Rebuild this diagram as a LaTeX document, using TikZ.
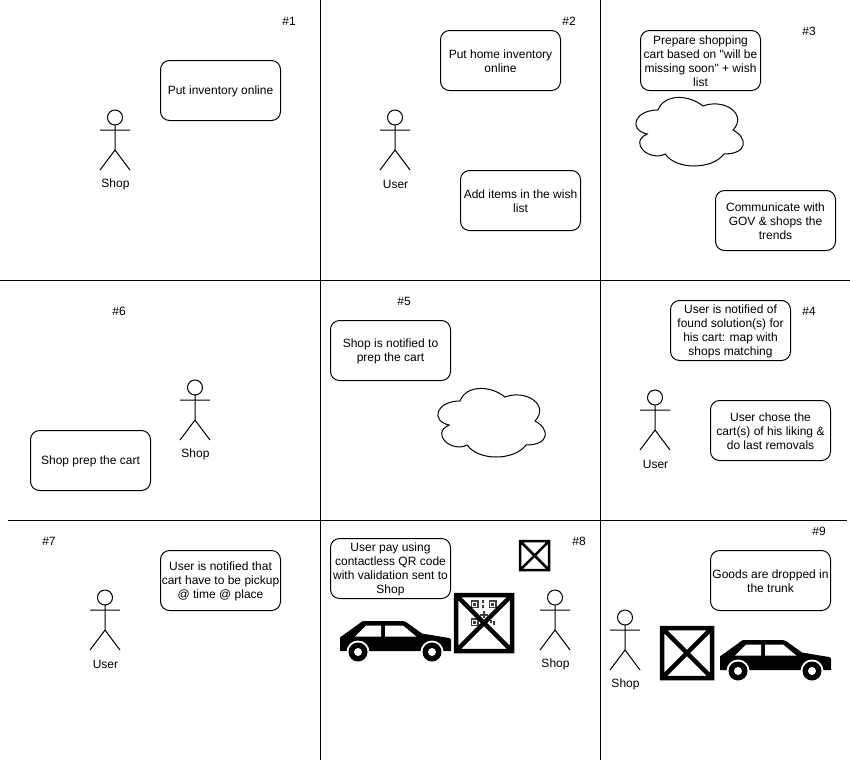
\documentclass[tikz,border=0pt]{standalone}
\usepackage{fontspec}
\setmainfont{Liberation Sans}[Ligatures=TeXOff]
\newcommand{\topgap}{\rule{0pt}{11pt}}
\begin{document}
\begin{tikzpicture}[x=1pt, y=-1pt, line width=1pt, font=\fontsize{12}{14}\selectfont,
        box/.style = {draw, rounded corners=9pt, minimum width=120pt, minimum height=60pt, inner sep=1pt, align=center, anchor=north west},
        tag/.style = {inner sep=0pt},
        rule/.style = {line width=1pt},
        qr/.style = {black!75},
        actor/.pic = {
            \draw (15,7.5) circle (7.5);
            \draw (15,15) -- (15,40) (0,20) -- (30,20) (0,60) -- (15,40) -- (30,60);
            \node[tag] (-name) at (15.5,74.5) {#1};
        },
        puffy/.pic = {
            \draw (30,20) .. controls (6,20) and (0,40) .. (19.2,44)
                .. controls (0,52.8) and (21.6,72) .. (37.2,64)
                .. controls (48,80) and (84,80) .. (96,64)
                .. controls (120,64) and (120,48) .. (105,40)
                .. controls (120,24) and (96,8) .. (75,16)
                .. controls (60,4) and (36,4) .. (30,20) -- cycle;
        },
        car/.pic = {
            \fill (0,17) .. controls (0,16) and (0,16) .. (2,15) -- (20,2) .. controls (21,1) and (22,0) .. (24,0) -- (63,0)
                .. controls (65,0) and (65,0) .. (66,1) -- (82,12.5) -- (109,17) .. controls (110.5,17.5) and (111,18) .. (111,19)
                -- (111,30) -- (0,30) -- cycle;
            \fill[white] (15,15.7) -- (26,4.5) -- (41,4.5) -- (41,15.7) -- cycle;
            \fill[white] (45,4.5) -- (63,4.5) -- (76.5,15.7) -- (45,15.7) -- cycle;
            \foreach \wx in {18,92} {
                \fill[white] (\wx,31) circle (11.5);
                \fill (\wx,31) circle (9.5);
                \fill[white] (\wx,31) circle (4);
            }
        }]
    \useasboundingbox (0,0) rectangle (850,763);
    % page grid
    \coordinate (h1a) at (0,280);
    \coordinate (h1b) at (850,280);
    \coordinate (h2a) at (8,520);
    \coordinate (h2b) at (847,520);
    \coordinate (v1a) at (320,0);
    \coordinate (v1b) at (320,760);
    \coordinate (v2a) at (600,0);
    \coordinate (v2b) at (600,760);
    \draw[rule] (h1a) -- (h1b);
    \draw[rule] (h2a) -- (h2b);
    \draw[rule] (v1a) -- (v1b);
    \draw[rule] (v2a) -- (v2b);
    % step numbers
    \node[tag] (n1) at (289,21) {\#1};
    \node[tag] (n2) at (569,21) {\#2};
    \node[tag] (n3) at (809,31) {\#3};
    \node[tag] (n4) at (809,311) {\#4};
    \node[tag] (n5) at (404,301) {\#5};
    \node[tag] (n6) at (119,311) {\#6};
    \node[tag] (n7) at (49,541) {\#7};
    \node[tag] (n8) at (579,541) {\#8};
    \node[tag] (n9) at (819,531) {\#9};
    % text boxes
    \node[box] (b1) at (160,60) {\topgap Put inventory online};
    \node[box] (b2) at (440,30) {\topgap Put home inventory\\online};
    \node[box] (b3) at (460,170) {\topgap Add items in the wish\\list};
    \node[box] (b4) at (640,30) {\topgap Prepare shopping\\cart based on "will be\\missing soon" + wish\\list};
    \node[box] (b5) at (715,190) {\topgap Communicate with\\GOV \& shops the\\trends};
    \node[box] (b6) at (670,300) {\topgap User is notified of\\found solution(s) for\\his cart: map with\\shops matching};
    \node[box] (b7) at (710,400) {\topgap User chose the\\cart(s) of his liking \&\\do last removals};
    \node[box] (b8) at (330,320) {\topgap Shop is notified to\\prep the cart};
    \node[box] (b9) at (30,430) {\topgap Shop prep the cart};
    \node[box] (b10) at (160,550) {\topgap User is notified that\\cart have to be pickup\\@ time @ place};
    \node[box] (b11) at (330,538) {\topgap User pay using\\contactless QR code\\with validation sent to\\Shop};
    \node[box] (b12) at (710,550) {\topgap Goods are dropped in\\the trunk};
    % people
    \pic (a1) at (100,110) {actor=Shop};
    \pic (a2) at (380,110) {actor=User};
    \pic (a3) at (180,380) {actor=Shop};
    \pic (a4) at (640,390) {actor=User};
    \pic (a5) at (90,590) {actor=User};
    \pic (a6) at (540,590) {actor=Shop};
    \pic (a7) at (610,610) {actor=Shop};
    % clouds
    \pic (c1) at (628,90) {puffy};
    \pic (c2) at (430,381) {puffy};
    % cars
    \pic (car1) at (340,621) {car};
    \pic (car2) at (720,640) {car};
    % qr code scrap
    \foreach \qx/\qy in {470.5/600, 488.5/600, 470.5/618} {
        \fill[qr] (\qx,\qy) rectangle +(8,8);
        \fill[white] (\qx+1.5,\qy+1.5) rectangle +(5,5);
        \fill[qr] (\qx+2.5,\qy+2.5) rectangle +(3,3);
    }
    \fill[qr] (482,600) rectangle +(2,3) (482,605) rectangle +(2,3) (480,614) rectangle +(8,2) (483,611) rectangle +(2,7) (490,620) rectangle +(2,3) (493,621) rectangle +(2,4);
    % missing pictures
    \draw[line width=2.5pt] (520,541) rectangle (549,570) (520,541) -- (549,570) (549,541) -- (520,570);
    \draw[line width=4.5pt] (456,595) rectangle (512,651) (456,595) -- (512,651) (512,595) -- (456,651);
    \draw[line width=4.5pt] (662,628) rectangle (712,678) (662,628) -- (712,678) (712,628) -- (662,678);
\end{tikzpicture}
\end{document}
